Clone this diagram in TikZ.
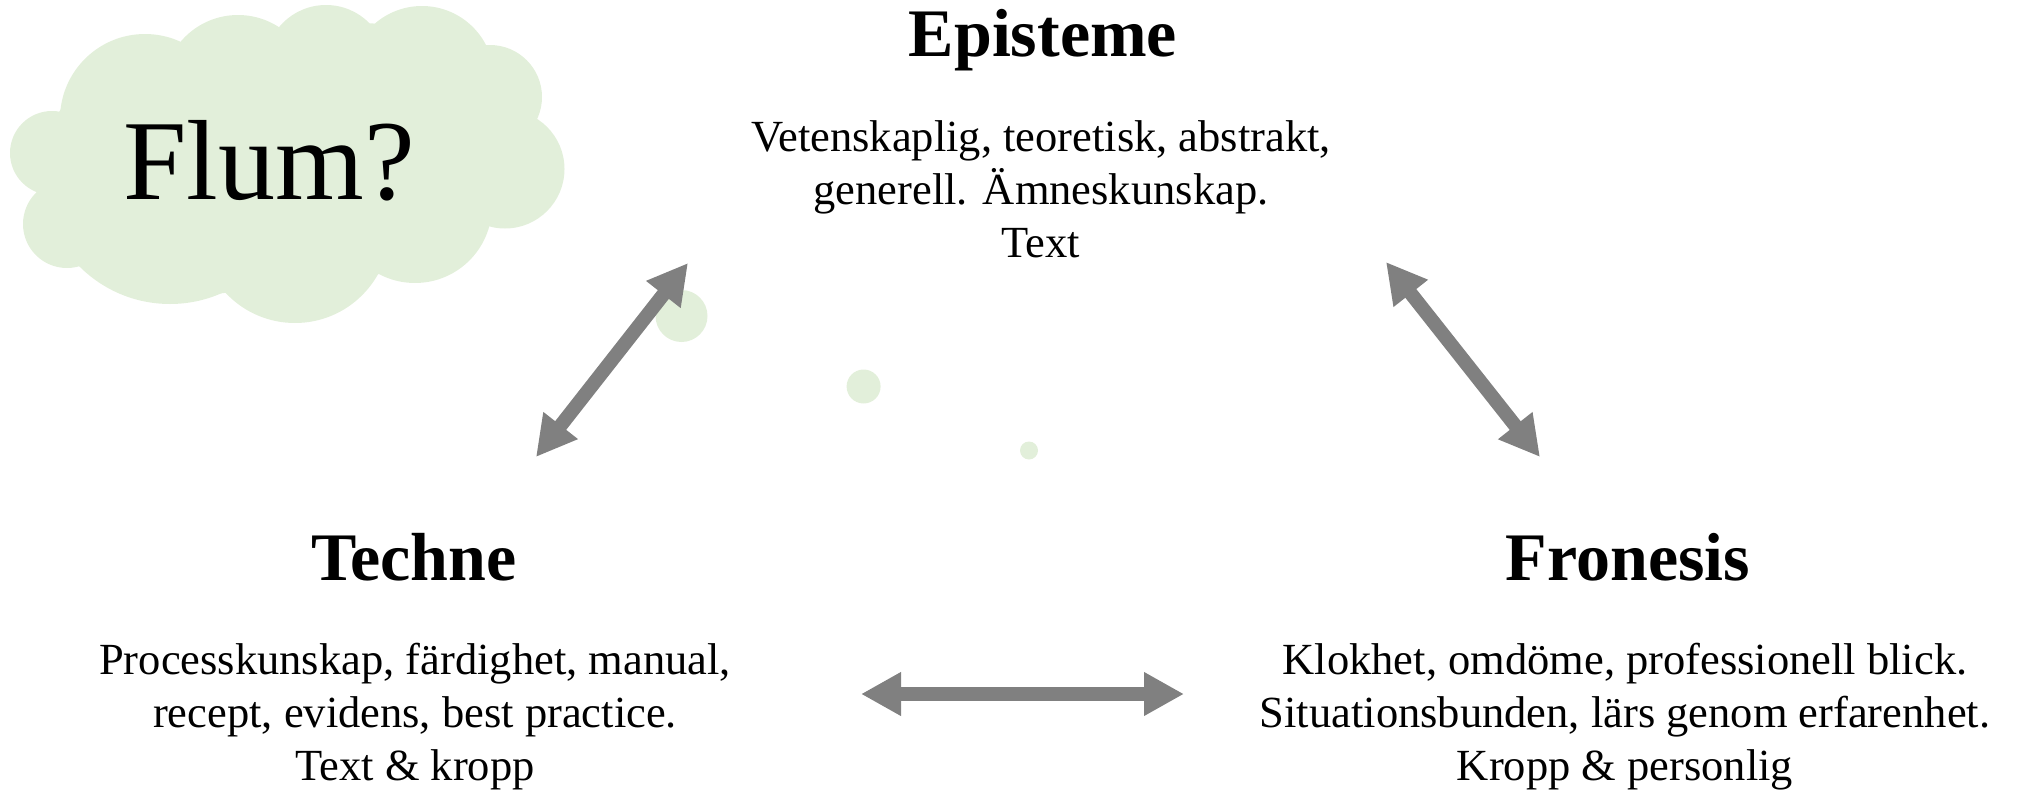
\documentclass[tikz,border=0pt]{standalone}
\usepackage{fontspec}
\setmainfont{Liberation Serif}
\usetikzlibrary{arrows.meta}
\definecolor{cloudgreen}{RGB}{226,239,218}
\definecolor{arrowgray}{RGB}{128,128,128}
\begin{document}
\begin{tikzpicture}[x=1pt,y=-1pt,
  title/.style={font=\fontsize{68}{80}\selectfont\bfseries, inner sep=0pt, anchor=base},
  body/.style={font=\fontsize{44.5}{53}\selectfont, align=center, inner sep=0pt, anchor=base},
  flum/.style={font=\fontsize{114}{120}\selectfont, inner sep=0pt, anchor=base},
  dblarrow/.style={draw=arrowgray, line width=14pt,
    {Triangle[length=40pt,width=41pt]}-{Triangle[length=40pt,width=41pt]}},
  puff/.style={fill=cloudgreen}]
\useasboundingbox (0,0) rectangle (2024,795);

% cloud
\fill[puff] (59.8,111.7) -- (179.6,42.7) -- (277.9,30) -- (372.5,23.3) -- (480.9,46)
  -- (536.8,118.3) -- (489.4,226) -- (376.5,275) -- (221.4,293.3) -- (84.3,265)
  -- (36.4,192.3) -- cycle;
\fill[puff] (52,153) circle[radius=42];
\fill[puff] (145,119) circle[radius=85];
\fill[puff] (238,90) circle[radius=75];
\fill[puff] (326,66) circle[radius=61];
\fill[puff] (422,78) circle[radius=72];
\fill[puff] (490,97) circle[radius=52];
\fill[puff] (505,169) circle[radius=59.5];
\fill[puff] (415,206) circle[radius=77];
\fill[puff] (295,228) circle[radius=95];
\fill[puff] (170,176) circle[radius=128];
\fill[puff] (67,224) circle[radius=44];

% thought bubbles
\fill[puff] (681.5,316) circle[radius=26];
\fill[puff] (863.6,386.5) circle[radius=17];
\fill[puff] (1029,450.5) circle[radius=9];

\node[flum] (flum) at (269,199) {Flum?};

% titles and texts (body anchored at baseline of last line)
\node[title] (episteme) at (1043,56) {Episteme};
\node[body] (epitext) at (1041,257) {Vetenskaplig, teoretisk, abstrakt,\\generell. Ämneskunskap.\\Text};
\node[title] (techne) at (414,580) {Techne};
\node[body] (techtext) at (415,780) {Processkunskap, färdighet, manual,\\recept, evidens, best practice.\\Text \& kropp};
\node[title] (fronesis) at (1628,580) {Fronesis};
\node[body] (frontext) at (1625,780) {Klokhet, omdöme, professionell blick.\\Situationsbunden, lärs genom erfarenhet.\\Kropp \& personlig};

% arrow end points
\coordinate (aT) at (536,457);
\coordinate (aE) at (688,263);
\coordinate (bE) at (1386,262);
\coordinate (bF) at (1540,457);
\coordinate (cT) at (861,694);
\coordinate (cF) at (1184,694);

\draw[dblarrow] (aT) -- (aE);
\draw[dblarrow] (bE) -- (bF);
\draw[dblarrow] (cT) -- (cF);
\end{tikzpicture}
\end{document}
